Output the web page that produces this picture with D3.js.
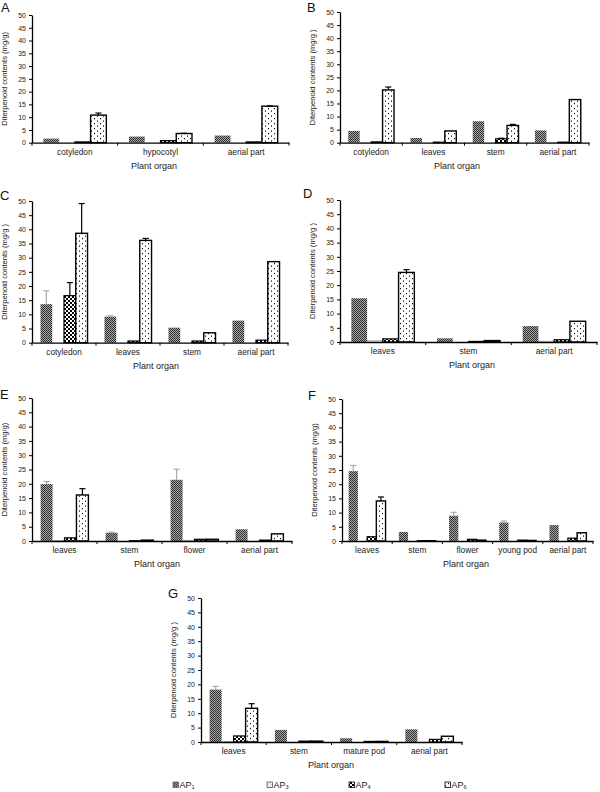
<!DOCTYPE html>
<html><head><meta charset="utf-8">
<script src="https://cdn.jsdelivr.net/npm/d3@7"></script>
<style>body{margin:0;background:#fff} svg{display:block} text{font-family:"Liberation Sans",Arial,sans-serif}</style>
</head><body><svg id="c" width="600" height="792"></svg>
<script>
// ---------- DATA ----------
const series = ["AP1","AP3","AP4","AP6"];
const seriesSub = ["1","3","4","6"];
const yTicks = [0,5,10,15,20,25,30,35,40,45,50];

const catsA = ["cotyledon","hypocotyl","aerial part"];
const valsA = [[1.6,2.4,2.8],[0,0,0],[0.3,0.8,0.3],[10.8,3.6,14.3]];
const errsA = [[0,0,0],[0,0,0],[0,0,0],[0.8,0.1,0.1]];

const catsB = ["cotyledon","leaves","stem","aerial part"];
const valsB = [[4.5,1.8,8.2,4.7],[0.1,0,0,0.2],[0.3,0.2,1.5,0.2],[20.2,4.5,6.6,16.5]];
const errsB = [[0,0,0,0],[0,0,0,0],[0,0,0.2,0],[1.1,0,0.4,0]];

const catsC = ["cotyledon","leaves","stem","aerial part"];
const valsC = [[13.6,9.2,5.3,7.8],[0,0,0,0],[16.6,0.6,0.6,0.9],[38.6,36.1,3.5,28.6]];
const errsC = [[4.7,0.3,0,0],[0,0,0,0],[4.6,0,0,0],[10.5,0.7,0,0]];

const catsD = ["leaves","stem","aerial part"];
const valsD = [[15.4,1.3,5.6],[0.6,0,0.3],[1.1,0.2,0.8],[24.5,0.5,7.3]];
const errsD = [[0,0,0],[0,0,0],[0,0,0],[1.0,0,0]];

const catsE = ["leaves","stem","flower","aerial part"];
const valsE = [[19.9,2.9,21.4,4.1],[0.2,0,0.3,0],[1.1,0.1,0.6,0.3],[16.1,0.3,0.6,2.5]];
const errsE = [[0.9,0.2,3.7,0],[0,0,0,0],[0,0,0,0],[2.2,0,0,0]];

const catsF = ["leaves","stem","flower","young pod","aerial part"];
const valsF = [[24.6,3.2,8.9,6.5,5.6],[0,0,0,0,0],[1.5,0.1,0.6,0.3,1.0],[14.1,0.1,0.3,0.2,2.9]];
const errsF = [[2.0,0,1.2,0.5,0],[0,0,0,0,0],[0,0,0,0,0],[1.4,0,0,0,0]];

const catsG = ["leaves","stem","mature pod","aerial part"];
const valsG = [[18.2,4.2,1.3,4.4],[0.2,0,0,0],[2.1,0.3,0.2,0.9],[11.7,0.3,0.2,2.0]];
const errsG = [[1.1,0,0,0],[0,0,0,0],[0,0,0,0],[1.6,0,0,0]];

const panels = [
  {id:"A", cats:catsA, vals:valsA, errs:errsA, yTitle:"Diterpenoid contents (mg/g)"},
  {id:"B", cats:catsB, vals:valsB, errs:errsB, yTitle:"Diterpenoid contents (mg/g )"},
  {id:"C", cats:catsC, vals:valsC, errs:errsC, yTitle:"Diterpenoid contents (mg/g )"},
  {id:"D", cats:catsD, vals:valsD, errs:errsD, yTitle:"Diterpenoid contents (mg/g )"},
  {id:"E", cats:catsE, vals:valsE, errs:errsE, yTitle:"Diterpenoid contents (mg/g)"},
  {id:"F", cats:catsF, vals:valsF, errs:errsF, yTitle:"Diterpenoid contents (mg/g)"},
  {id:"G", cats:catsG, vals:valsG, errs:errsG, yTitle:"Diterpenoid contents (mg/g )"}
];

// ---------- LAYOUT ----------
const layout = {
  A:{ax:32,  top:15,  zero:142.7, end:289, tx:154, lx:1,   ly:12},
  B:{ax:340, top:12,  zero:142.7, end:589, tx:457, lx:307, ly:12},
  C:{ax:32,  top:201, zero:342.7, end:288, tx:156, lx:0,   ly:200},
  D:{ax:340, top:200, zero:342,   end:597, tx:472, lx:303, ly:198},
  E:{ax:32,  top:398, zero:541,   end:292, tx:157, lx:0,   ly:399},
  F:{ax:342, top:399, zero:541,   end:593, tx:466, lx:308, ly:400},
  G:{ax:201, top:598, zero:742,   end:462, tx:331, lx:168, ly:598}
};
const legendX = [173, 267, 349, 445];
const legendY = 788;

const svg = d3.select("#c");
const defs = svg.append("defs");
// AP1: fine dark checker
let p = defs.append("pattern").attr("id","p0").attr("width",2).attr("height",2).attr("patternUnits","userSpaceOnUse");
p.append("rect").attr("width",2).attr("height",2).attr("fill","#a9a9a9");
p.append("rect").attr("width",1).attr("height",1).attr("fill","#2e2e2e");
p.append("rect").attr("x",1).attr("y",1).attr("width",1).attr("height",1).attr("fill","#2e2e2e");
// AP3: light diagonal
p = defs.append("pattern").attr("id","p1").attr("width",3).attr("height",3).attr("patternUnits","userSpaceOnUse");
p.append("rect").attr("width",3).attr("height",3).attr("fill","#fff");
p.append("path").attr("d","M0,3L3,0").attr("stroke","#888").attr("stroke-width",0.6);
// AP4: bold checker
p = defs.append("pattern").attr("id","p2").attr("width",4).attr("height",4).attr("patternUnits","userSpaceOnUse");
p.append("rect").attr("width",4).attr("height",4).attr("fill","#fff");
p.append("rect").attr("width",2).attr("height",2).attr("fill","#000");
p.append("rect").attr("x",2).attr("y",2).attr("width",2).attr("height",2).attr("fill","#000");
// AP6: dots
p = defs.append("pattern").attr("id","p3").attr("width",6).attr("height",5).attr("patternUnits","userSpaceOnUse");
p.append("rect").attr("width",6).attr("height",5).attr("fill","#fff");
p.append("rect").attr("x",1).attr("y",0.5).attr("width",1).attr("height",1.2).attr("fill","#000");
p.append("rect").attr("x",4).attr("y",3).attr("width",1).attr("height",1.2).attr("fill","#000");

const fills = ["url(#p0)","url(#p1)","url(#p2)","url(#p3)"];
const strokes = ["none","#999","#000","#000"];
const strokeW = [0,0.5,1.2,1.4];
const errColor = ["#a8a8a8","#999","#000","#000"];

panels.forEach(pn => {
  const L = layout[pn.id];
  const g = svg.append("g");
  const y = d3.scaleLinear().domain([0,50]).range([L.zero, L.top]);
  const x = d3.scaleBand().domain(pn.cats).range([L.ax, L.end]).paddingInner(0).paddingOuter(0);
  const xs = d3.scaleBand().domain(series).range([0, x.bandwidth()]).paddingInner(0).paddingOuter(0.72);

  series.forEach((s, si) => {
    const data = pn.cats.map((c, ci) => ({c, v: pn.vals[si][ci], e: pn.errs[si][ci]}));
    g.append("g").selectAll("rect").data(data.filter(d => d.v > 0)).join("rect")
      .attr("x", d => x(d.c) + xs(s))
      .attr("width", xs.bandwidth())
      .attr("y", d => y(d.v))
      .attr("height", d => y(0) - y(d.v))
      .attr("fill", fills[si])
      .attr("stroke", strokes[si])
      .attr("stroke-width", strokeW[si]);
    const eg = g.append("g").attr("stroke", errColor[si]).attr("stroke-width", 1.2);
    data.filter(d => d.e > 0).forEach(d => {
      const cx = x(d.c) + xs(s) + xs.bandwidth()/2;
      eg.append("line").attr("x1",cx).attr("x2",cx).attr("y1",y(d.v)).attr("y2",y(d.v+d.e));
      eg.append("line").attr("x1",cx-3).attr("x2",cx+3).attr("y1",y(d.v+d.e)).attr("y2",y(d.v+d.e));
    });
  });

  const ya = g.append("g").attr("transform",`translate(${L.ax},0)`)
    .call(d3.axisLeft(y).tickValues(yTicks).tickSize(3).tickSizeOuter(0).tickPadding(3));
  ya.select(".domain").attr("stroke","#000").attr("stroke-width",1.3);
  ya.selectAll(".tick line").attr("stroke","#000").attr("stroke-width",1);
  ya.selectAll("text").attr("font-size",7).attr("fill","#222").attr("font-family","Liberation Sans, Arial, sans-serif");

  const xa = g.append("g").attr("transform",`translate(0,${L.zero})`)
    .call(d3.axisBottom(x).tickSize(0).tickPadding(6.5).tickSizeOuter(0));
  xa.select(".domain").attr("stroke","#000").attr("stroke-width",1.3);
  xa.selectAll("text").attr("font-size",8.3).attr("fill","#222").attr("font-family","Liberation Sans, Arial, sans-serif");
  g.append("g").selectAll("line").data(d3.range(pn.cats.length + 1)).join("line")
    .attr("x1", i => L.ax + i * x.step()).attr("x2", i => L.ax + i * x.step())
    .attr("y1", L.zero).attr("y2", L.zero + 3).attr("stroke","#000").attr("stroke-width",1);

  g.append("text").attr("x", L.tx).attr("y", L.zero + 26).attr("text-anchor","middle")
    .attr("font-size", 9).attr("fill","#222").text("Plant organ");
  g.append("text").attr("transform",`translate(${L.ax-25},${(L.top+L.zero)/2}) rotate(-90)`)
    .attr("text-anchor","middle").attr("font-size",7.6).attr("fill","#222").text(pn.yTitle);
  g.append("text").attr("x", L.lx).attr("y", L.ly).attr("font-size", 13).attr("fill","#111").text(pn.id);
});

// legend
const lg = svg.append("g");
series.forEach((s, i) => {
  lg.append("rect").attr("x", legendX[i]).attr("y", legendY - 6).attr("width", 5.5).attr("height", 5.5)
    .attr("fill", fills[i]).attr("stroke", i === 0 ? "#666" : (i === 1 ? "#555" : "#000")).attr("stroke-width", 0.8);
  const t = lg.append("text").attr("x", legendX[i] + 6.5).attr("y", legendY).attr("font-size", 9).attr("fill","#222");
  t.append("tspan").text("AP");
  t.append("tspan").attr("font-size", 5.5).attr("dy", 1).text(seriesSub[i]);
});
</script></body></html>
